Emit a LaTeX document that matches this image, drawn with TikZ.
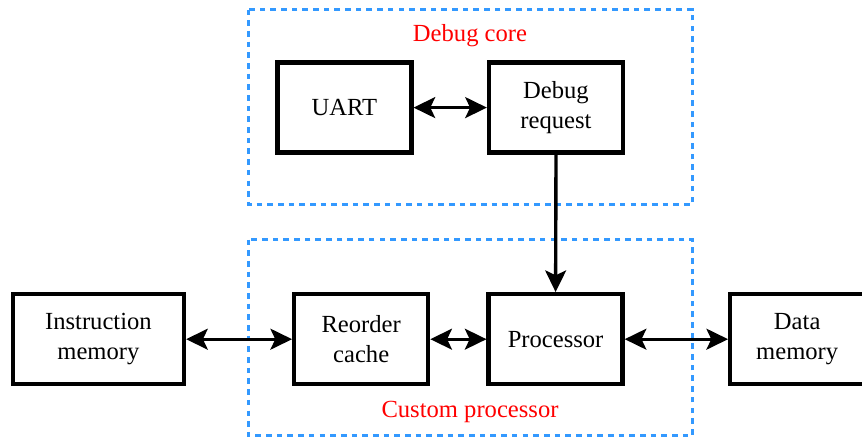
\documentclass[tikz,border=0pt]{standalone}
\usepackage{fontspec}
\setmainfont{Liberation Serif}
\usetikzlibrary{arrows.meta}
\definecolor{groupblue}{RGB}{51,153,255}
\tikzstyle{block}=[rectangle,draw=black,line width=3pt,minimum width=3.35cm,minimum height=2.25cm,inner sep=0pt,align=center,anchor=center]
\tikzstyle{group}=[draw=groupblue,line width=2.2pt,dash pattern=on 4pt off 3.6pt]
\tikzstyle{grouplabel}=[text=red,align=center]
\tikzstyle{link}=[line width=2.4pt,{Stealth[length=0.54cm,width=0.52cm,inset=0.12cm]}-{Stealth[length=0.54cm,width=0.52cm,inset=0.12cm]}]
\tikzstyle{feed}=[line width=2.4pt,-{Stealth[length=0.54cm,width=0.52cm,inset=0.12cm]}]

\begin{document}
\begin{tikzpicture}[font=\fontsize{17.5}{21.3}\selectfont]
	\useasboundingbox (0,0) rectangle (21.55,11);

	% dashed groups
	\draw[group] (6.21,10.76) rectangle (17.31,5.89);
	\draw[group] (6.21,5.01) rectangle (17.31,0.11);
	\node[grouplabel](debuglabel) at (11.75,10.11) {Debug core};
	\node[grouplabel](customlabel) at (11.75,0.71) {Custom processor};

	% debug core
	\node[block](uart) at (8.61,8.31) {UART};
	\node[block](debugreq) at (13.9,8.31) {Debug\\request};

	% processor row
	\node[block, minimum width=4.28cm](imem) at (2.46,2.52) {Instruction\\memory};
	\node[block](reorder) at (9.03,2.52) {Reorder\\cache};
	\node[block](proc) at (13.89,2.52) {Processor};
	\node[block](dmem) at (19.93,2.52) {Data\\memory};

	\draw[link] (uart) -- (debugreq);
	\draw[link] (imem) -- (reorder);
	\draw[link] (reorder) -- (proc);
	\draw[link] (proc) -- (dmem);
	\draw[feed] (debugreq.south) -- (proc.north);

\end{tikzpicture}
\end{document}
